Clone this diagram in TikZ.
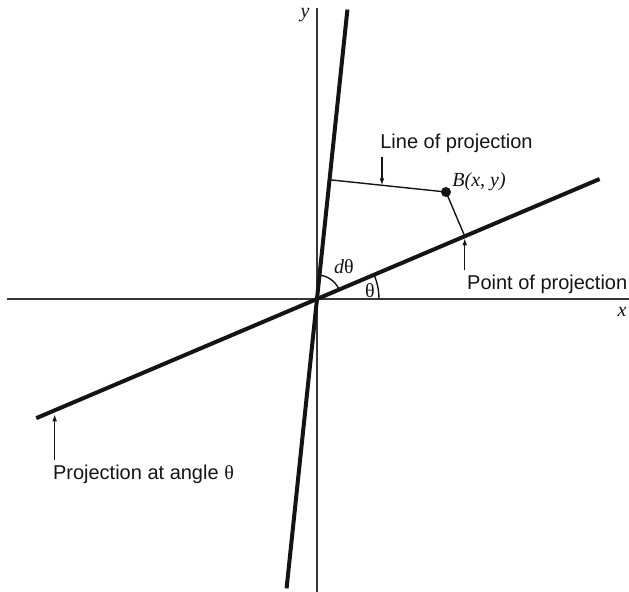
\documentclass[tikz,border=0pt]{standalone}
\usepackage{fontspec}
\setmainfont{Liberation Serif}
\setsansfont{Liberation Sans}
\usetikzlibrary{positioning,arrows.meta,calc}
\definecolor{ink}{RGB}{20,20,20}
\tikzset{
  axis/.style={draw=ink!85, line width=0.9pt},
  beam/.style={draw=ink, line width=2pt},
  ray/.style={draw=ink, line width=0.7pt},
  arrow/.style={-{Latex[length=3.5pt,width=2.4pt]}, line width=0.6pt, draw=ink},
  lbl/.style={font=\sffamily\fontsize{10}{12}\selectfont, inner sep=2pt, text=ink},
  sym/.style={font=\fontsize{10}{12}\selectfont\itshape, inner sep=0pt, text=ink}
}

\begin{document}
\begin{tikzpicture}[x=0.5pt, y=0.5pt]
    \useasboundingbox (-317,-293) rectangle (312,299);
    \coordinate (O) at (0,0);
    % axes
    \coordinate (xl) at (-310,0);
    \coordinate (xr) at (312,0);
    \coordinate (yb) at (0,-293);
    \coordinate (yt) at (0,291);
    \draw[axis] (xl) -- (xr);
    \draw[axis] (yb) -- (yt);
    \node[sym] (xlab) at (305,-13) {x};
    \node[sym] (ylab) at (-12,284) {y};
    % the two rotated lines
    \coordinate (vtop) at (84:291);
    \coordinate (vbot) at (264:291);
    \coordinate (atop) at (23:307);
    \coordinate (abot) at (203:305);
    \draw[beam] (vbot) -- (vtop);
    \draw[beam] (abot) -- (atop);
    % point and its projections
    \coordinate (B) at (129,107);
    \coordinate (fv) at ($(vbot)!(B)!(vtop)$);
    \coordinate (fa) at ($(abot)!(B)!(atop)$);
    \draw[ray] (fv) -- (B);
    \draw[ray] (B) -- (fa);
    \fill[ink] (B) circle[radius=5];
    \node[sym, anchor=west] (blab) at ($(B)+(6,10)$) {B(x, y)};
    % angles
    \draw[ray] (23:24) arc[start angle=23, end angle=84, radius=24];
    \draw[ray] (0:62) arc[start angle=0, end angle=23, radius=62];
    \node[sym] (dlab) at (27,32) {d\textup{θ}};
    \node[sym] (tlab) at (53,8) {\textup{θ}};
    % labels with arrows
    \coordinate (lopfoot) at ($(fv)!0.45!(B)$);
    \node[lbl, anchor=south west] (lop) at ($(lopfoot)+(-6,28)$) {Line of projection};
    \draw[arrow] (lop.south west -| lopfoot) -- (lopfoot);
    \node[lbl, anchor=north west] (pop) at ($(fa)+(-2,-34)$) {Point of projection};
    \draw[arrow, shorten >=1pt] (pop.north west -| fa) -- (fa);
    \coordinate (pat) at (203:285);
    \node[lbl, anchor=north west] (pan) at ($(pat)+(-6,-50)$) {Projection at angle \textrm{θ}};
    \draw[arrow, shorten >=2pt] (pan.north west -| pat) -- (pat);
\end{tikzpicture}
\end{document}
